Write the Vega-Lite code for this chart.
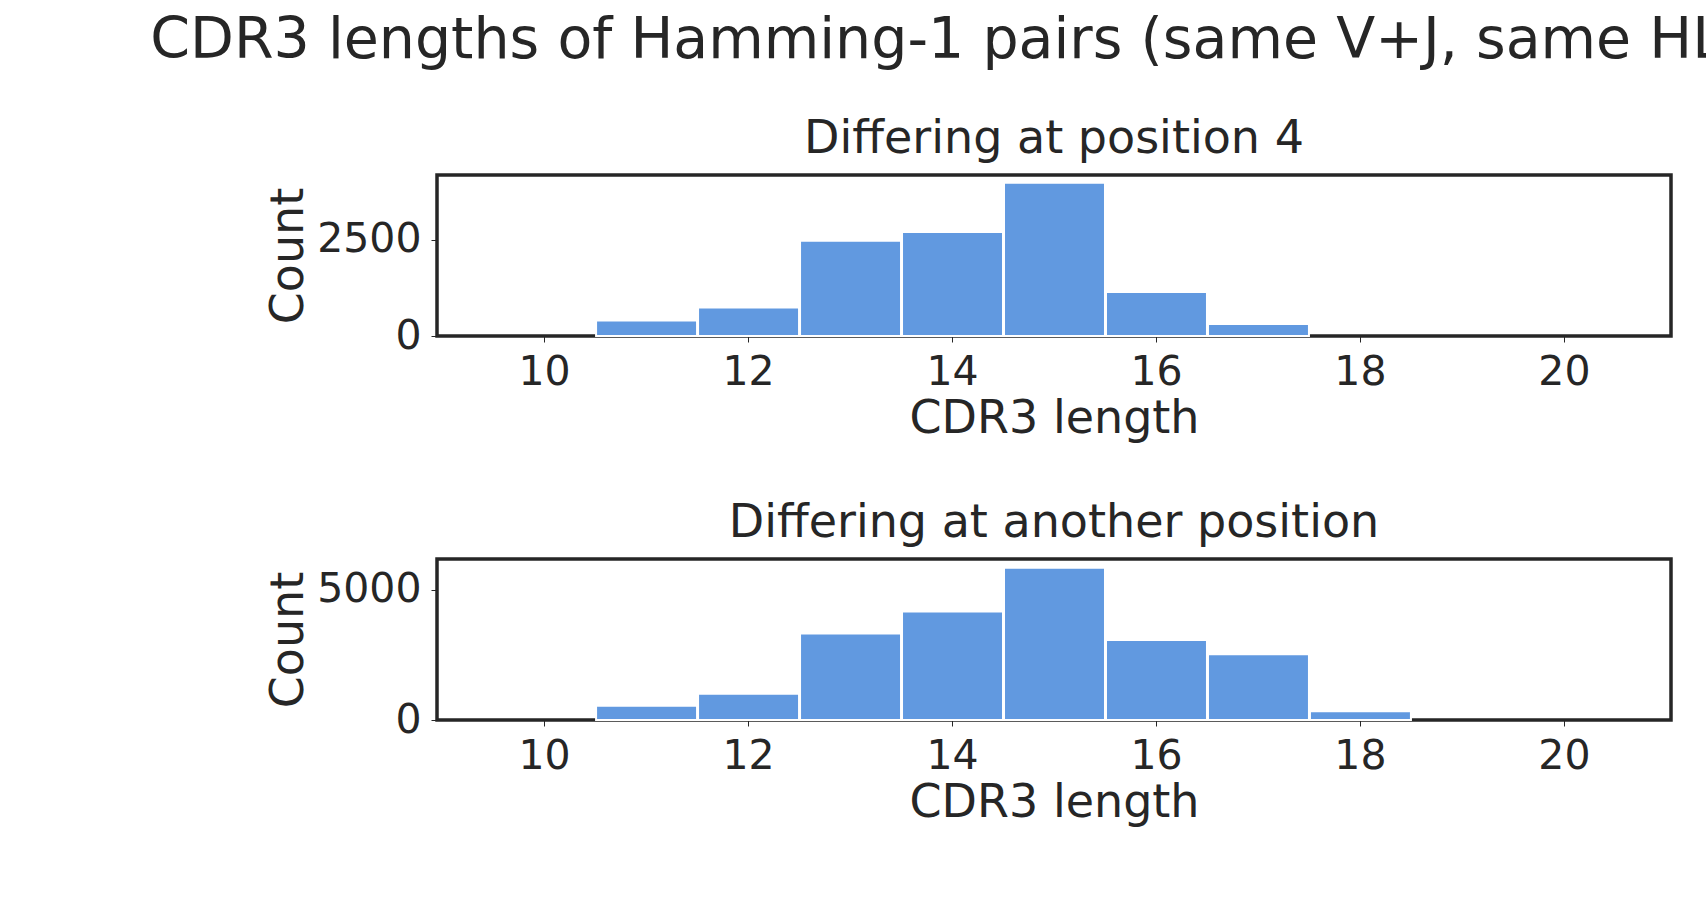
{
  "$schema": "https://vega.github.io/schema/vega-lite/v6.json",
  "background": "white",
  "padding": {"left": 150, "top": 12, "right": 20, "bottom": 10},
  "title": {"text": "CDR3 lengths of Hamming-1 pairs (same V+J, same HLA)", "fontSize": 57, "fontWeight": "normal", "font": "DejaVu Sans", "color": "#262626", "anchor": "middle", "offset": 44},
  "config": {
    "font": "DejaVu Sans",
    "view": {"stroke": "#262626", "strokeWidth": 3.5},
    "axis": {"labelFontSize": 41, "titleFontSize": 46, "titleFontWeight": "normal", "labelColor": "#262626", "titleColor": "#262626", "grid": false, "domain": false, "tickColor": "#262626", "tickSize": 6, "labelPadding": 10, "format": "d"},
    "title": {"fontSize": 46, "fontWeight": "normal", "color": "#262626", "offset": 12}
  },
  "datasets": {
    "pos4": [
      {"start": 10.5, "end": 11.5, "count": 400},
      {"start": 11.5, "end": 12.5, "count": 740},
      {"start": 12.5, "end": 13.5, "count": 2470},
      {"start": 13.5, "end": 14.5, "count": 2700},
      {"start": 14.5, "end": 15.5, "count": 3977},
      {"start": 15.5, "end": 16.5, "count": 1140},
      {"start": 16.5, "end": 17.5, "count": 310}
    ],
    "other": [
      {"start": 10.5, "end": 11.5, "count": 550},
      {"start": 11.5, "end": 12.5, "count": 1010},
      {"start": 12.5, "end": 13.5, "count": 3320},
      {"start": 13.5, "end": 14.5, "count": 4160},
      {"start": 14.5, "end": 15.5, "count": 5840},
      {"start": 15.5, "end": 16.5, "count": 3070},
      {"start": 16.5, "end": 17.5, "count": 2520},
      {"start": 17.5, "end": 18.5, "count": 340}
    ]
  },
  "vconcat": [
    {
      "title": "Differing at position 4",
      "width": 1234, "height": 161,
      "data": {"name": "pos4"},
      "mark": {"type": "bar", "color": "#6199e0", "stroke": "white", "strokeWidth": 2},
      "encoding": {
        "x": {"field": "start", "type": "quantitative", "bin": "binned", "scale": {"domain": [8.95, 21.05], "nice": false}, "axis": {"title": "CDR3 length", "values": [10, 12, 14, 16, 18, 20]}},
        "x2": {"field": "end"},
        "y": {"field": "count", "type": "quantitative", "scale": {"domain": [0, 4176], "nice": false}, "axis": {"title": "Count", "values": [0, 2500]}}
      }
    },
    {
      "title": "Differing at another position",
      "width": 1234, "height": 161,
      "data": {"name": "other"},
      "mark": {"type": "bar", "color": "#6199e0", "stroke": "white", "strokeWidth": 2},
      "encoding": {
        "x": {"field": "start", "type": "quantitative", "bin": "binned", "scale": {"domain": [8.95, 21.05], "nice": false}, "axis": {"title": "CDR3 length", "values": [10, 12, 14, 16, 18, 20]}},
        "x2": {"field": "end"},
        "y": {"field": "count", "type": "quantitative", "scale": {"domain": [0, 6176], "nice": false}, "axis": {"title": "Count", "values": [0, 5000]}}
      }
    }
  ],
  "spacing": 55
}
